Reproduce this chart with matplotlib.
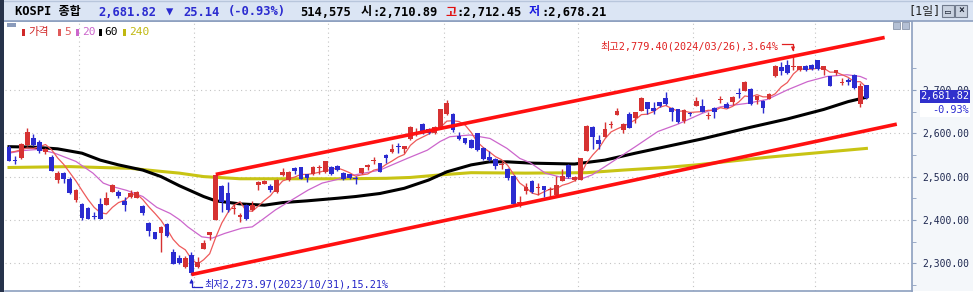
import matplotlib.pyplot as plt
from matplotlib.patches import Rectangle
from matplotlib.lines import Line2D
from matplotlib.ticker import FixedLocator, FuncFormatter

plt.rcParams['font.family'] = ['DejaVu Sans Mono', 'Noto Sans CJK KR']

W, H = 973, 292

# ---- daily candles, 2023/09/12 .. 2024/04/12 ----
opens = [2569, 2539, 2542, 2573, 2589, 2579, 2556, 2545, 2491, 2508,
         2495, 2446, 2437, 2428, 2409, 2437, 2435, 2465, 2464, 2444,
         2452, 2451, 2432, 2394, 2371, 2370, 2390, 2325, 2313, 2292,
         2320, 2292, 2334, 2366, 2400, 2478, 2462, 2425, 2406, 2434,
         2423, 2481, 2483, 2478, 2465, 2504, 2492, 2519, 2521, 2505,
         2506, 2519, 2511, 2521, 2525, 2509, 2505, 2496, 2509, 2522,
         2535, 2531, 2550, 2556, 2570, 2563, 2586, 2599, 2621, 2609,
         2600, 2615, 2645, 2645, 2594, 2588, 2585, 2600, 2567, 2546,
         2540, 2526, 2518, 2501, 2439, 2467, 2490, 2474, 2478, 2470,
         2458, 2490, 2527, 2491, 2492, 2560, 2615, 2585, 2592, 2620,
         2642, 2608, 2645, 2636, 2652, 2672, 2659, 2672, 2682, 2659,
         2655, 2628, 2647, 2663, 2663, 2639, 2658, 2678, 2668, 2673,
         2693, 2698, 2702, 2677, 2675, 2679, 2731, 2752, 2758, 2753,
         2745, 2756, 2758, 2768, 2745, 2732, 2738, 2717, 2723, 2735,
         2668, 2710.89]
highs = [2572, 2547, 2577, 2613, 2598, 2585, 2565, 2550, 2514, 2510,
         2500, 2472, 2438, 2430, 2419, 2450, 2465, 2483, 2468, 2452,
         2468, 2467, 2434, 2396, 2373, 2385, 2392, 2332, 2318, 2316,
         2325, 2315, 2354, 2373, 2504, 2480, 2488, 2437, 2415, 2436,
         2444, 2490, 2492, 2483, 2494, 2519, 2513, 2523, 2523, 2507,
         2524, 2527, 2537, 2524, 2527, 2511, 2507, 2501, 2520, 2529,
         2545, 2532, 2551, 2575, 2577, 2571, 2617, 2611, 2623, 2611,
         2616, 2656, 2677, 2647, 2602, 2590, 2587, 2601, 2569, 2558,
         2543, 2536, 2519, 2503, 2455, 2485, 2491, 2485, 2479, 2477,
         2501, 2517, 2528, 2502, 2543, 2618, 2616, 2596, 2625, 2629,
         2659, 2624, 2648, 2649, 2683, 2673, 2673, 2673, 2696, 2660,
         2657, 2655, 2650, 2684, 2678, 2648, 2660, 2686, 2671, 2685,
         2704, 2721, 2704, 2687, 2676, 2692, 2757, 2765, 2769, 2779.40,
         2756, 2757, 2760, 2770, 2756, 2733, 2747, 2727, 2727, 2737,
         2717, 2712.45]
lows = [2535, 2529, 2540, 2571, 2571, 2554, 2552, 2512, 2486, 2486,
        2460, 2441, 2400, 2401, 2402, 2402, 2434, 2464, 2451, 2421,
        2451, 2450, 2411, 2363, 2355, 2327, 2360, 2298, 2298, 2290,
        2273.97, 2290, 2333, 2354, 2399, 2419, 2418, 2414, 2395, 2400,
        2421, 2468, 2482, 2465, 2463, 2502, 2490, 2505, 2494, 2488,
        2504, 2505, 2509, 2504, 2512, 2493, 2494, 2483, 2505, 2515,
        2529, 2510, 2531, 2554, 2554, 2554, 2585, 2594, 2599, 2598,
        2599, 2614, 2643, 2604, 2585, 2575, 2565, 2558, 2538, 2537,
        2517, 2518, 2491, 2435, 2429, 2460, 2462, 2458, 2454, 2454,
        2457, 2489, 2497, 2490, 2491, 2559, 2563, 2563, 2591, 2611,
        2641, 2600, 2612, 2624, 2651, 2644, 2644, 2660, 2666, 2629,
        2624, 2623, 2640, 2662, 2649, 2632, 2635, 2669, 2658, 2665,
        2681, 2697, 2666, 2667, 2646, 2678, 2730, 2735, 2737, 2746,
        2744, 2744, 2747, 2747, 2735, 2708, 2734, 2711, 2711, 2703,
        2661, 2678.21]
closes = [2537, 2536, 2575, 2602, 2573, 2559, 2563, 2514, 2508, 2495,
          2463, 2468, 2404, 2403, 2407, 2403, 2451, 2481, 2456, 2435,
          2462, 2465, 2415, 2375, 2356, 2383, 2363, 2298, 2301, 2312,
          2278, 2303, 2346, 2371, 2504, 2442, 2423, 2428, 2411, 2402,
          2434, 2487, 2490, 2469, 2492, 2511, 2511, 2514, 2495, 2496,
          2521, 2523, 2536, 2505, 2515, 2495, 2496, 2494, 2519, 2527,
          2537, 2511, 2544, 2563, 2568, 2571, 2615, 2601, 2600, 2601,
          2614, 2655, 2670, 2607, 2587, 2578, 2567, 2561, 2541, 2538,
          2525, 2528, 2496, 2436, 2441, 2475, 2464, 2476, 2469, 2472,
          2480, 2501, 2498, 2500, 2542, 2617, 2591, 2575, 2610, 2622,
          2651, 2621, 2613, 2648, 2682, 2655, 2652, 2663, 2667, 2648,
          2625, 2654, 2645, 2675, 2650, 2641, 2648, 2680, 2659, 2683,
          2691, 2719, 2667, 2686, 2658, 2691, 2755, 2744, 2738, 2755,
          2755, 2745, 2748, 2748, 2755, 2708, 2745, 2719, 2718, 2704,
          2708, 2681.82]

# moving averages
ma5 = [2556, 2558, 2562, 2566, 2565, 2569, 2574, 2562, 2543, 2528,
       2509, 2490, 2468, 2447, 2429, 2417, 2414, 2429, 2440, 2445,
       2457, 2460, 2447, 2430, 2415, 2399, 2378, 2355, 2340, 2331,
       2310, 2298, 2308, 2322, 2360, 2393, 2417, 2434, 2442, 2421,
       2420, 2432, 2445, 2456, 2474, 2490, 2495, 2499, 2505, 2505,
       2507, 2510, 2514, 2516, 2520, 2515, 2509, 2501, 2504, 2506,
       2515, 2518, 2528, 2536, 2545, 2551, 2572, 2584, 2591, 2598,
       2606, 2614, 2628, 2629, 2627, 2619, 2602, 2580, 2567, 2557,
       2546, 2539, 2526, 2505, 2485, 2475, 2462, 2458, 2465, 2471,
       2472, 2480, 2484, 2490, 2504, 2532, 2550, 2565, 2587, 2603,
       2610, 2616, 2623, 2631, 2643, 2644, 2650, 2660, 2664, 2657,
       2651, 2651, 2648, 2649, 2650, 2653, 2652, 2659, 2656, 2662,
       2672, 2686, 2684, 2689, 2684, 2684, 2691, 2707, 2717, 2737,
       2749, 2747, 2748, 2750, 2750, 2741, 2741, 2735, 2729, 2719,
       2719, 2706]
ma20_idx = [0, 2.3, 5, 7.5, 11, 13.8, 15.5, 17, 19.4, 22, 24.3, 26.5, 28.1,
            29.4, 31.7, 33.4, 35.5, 38.3, 40, 41.6, 43.8, 46.5, 49.2, 51.5,
            54.8, 56.9, 61, 65.5, 68.8, 70.9, 72.5, 75.8, 79.1, 81.9, 84,
            85.7, 88.2, 91.4, 94.2, 95.9, 98, 103, 106.7, 110, 114, 117,
            121.4, 124.7, 128, 131.3, 134.5, 137.8, 140, 141]
ma20_val = [2554, 2560, 2563, 2554, 2535, 2508, 2485, 2477, 2468, 2454,
            2429, 2415, 2400, 2384, 2361, 2358, 2369, 2381, 2384, 2400,
            2423, 2446, 2469, 2485, 2496, 2504, 2515, 2542, 2561, 2581,
            2592, 2596, 2588, 2565, 2542, 2532, 2508, 2496, 2495, 2504,
            2523, 2569, 2604, 2621, 2646, 2661, 2669, 2678, 2700, 2719,
            2731, 2735, 2731, 2725]
ma60_idx = [0, 4, 8, 12, 15, 18, 22, 25, 28, 32, 34, 38, 42, 45, 49, 54, 57,
            61, 65, 69, 72, 76, 79, 82, 86, 93, 98, 103, 108, 114, 122, 128,
            134, 138, 141]
ma60_val = [2569, 2568, 2564, 2554, 2538, 2527, 2515, 2500, 2479, 2454,
            2444, 2437, 2434, 2440, 2444, 2450, 2454, 2461, 2473, 2492,
            2511, 2527, 2534, 2534, 2531, 2529, 2538, 2554, 2569, 2587,
            2614, 2633, 2655, 2673, 2683]
ma240_idx = [0, 10, 20, 25, 28, 32, 38, 55, 62, 66, 71, 76, 85, 95, 101,
             108, 113, 125, 141]
ma240_val = [2521, 2523, 2519, 2512, 2508, 2500, 2495, 2495, 2496, 2498,
             2504, 2509, 2508, 2509, 2515, 2521, 2527, 2545, 2565]

month_breaks = [11.5, 30.5, 52.5, 71.5, 93.5, 112.5, 132.5]
upper_x, upper_y = [34, 144], [2505, 2821]
lower_x, lower_y = [30, 146], [2274, 2621]
label_ticks = [2300, 2400, 2500, 2600, 2700]
minor_ticks = [2250, 2350, 2450, 2550, 2650, 2750]

RED = '#d63232'
BLUE = '#2b2bd0'
FRAME = '#8c9fbf'


def fx(x):
    return x / W


def fy(y):
    return 1 - y / H


fig = plt.figure(figsize=(W / 100, H / 100), dpi=100)
fig.patch.set_facecolor('white')

ax = fig.add_axes([fx(5), fy(291), 907 / W, 270 / H])
ax.set_xlim(-0.66, 148.5)
ax.set_ylim(2236, 2859)
ax.set_facecolor('white')

# grid
for v in label_ticks:
    ax.axhline(v, color='#c4c4c4', lw=0.8, ls=(0, (1, 3)), zorder=0)
for m in month_breaks:
    ax.axvline(m, color='#c4c4c4', lw=0.8, ls=(0, (1, 3)), zorder=0)

# moving averages
ax.plot(ma240_idx, ma240_val, color='#c8c414', lw=2.2, zorder=2)
ax.plot(ma60_idx, ma60_val, color='black', lw=2.2, zorder=2)
ax.plot(ma20_idx, ma20_val, color='#cc66cc', lw=0.9, zorder=2)
ax.plot(range(len(ma5)), ma5, color='#ee5a5a', lw=0.9, zorder=2)

# candles
xs = list(range(len(closes)))
cols = [RED if c >= o else BLUE for o, c in zip(opens, closes)]
bottoms, heights = [], []
for o, c in zip(opens, closes):
    lo, hi = min(o, c), max(o, c)
    if hi - lo < 2.3:
        mid = (lo + hi) / 2
        lo, hi = mid - 1.15, mid + 1.15
    bottoms.append(lo)
    heights.append(hi - lo)
ax.vlines(xs, lows, highs, colors=cols, lw=1.0, zorder=3)
ax.bar(xs, heights, bottom=bottoms, width=0.78, color=cols, linewidth=0, zorder=4)

# trend channel
ax.plot(upper_x, upper_y, color='#ff1010', lw=2.6, zorder=5, solid_capstyle='butt')
ax.plot(lower_x, lower_y, color='#ff1010', lw=2.6, zorder=5, solid_capstyle='butt')

# axes frame / right price scale
for s in ('top', 'bottom', 'right'):
    ax.spines[s].set_color(FRAME)
    ax.spines[s].set_linewidth(1.2)
ax.spines['left'].set_visible(False)
ax.set_xticks([])
ax.yaxis.tick_right()
ax.yaxis.set_major_locator(FixedLocator(label_ticks))
ax.yaxis.set_minor_locator(FixedLocator(minor_ticks))
ax.yaxis.set_major_formatter(FuncFormatter(lambda v, p: f'{v:,.2f}'))
ax.tick_params(axis='y', which='both', direction='out', length=3, color=FRAME,
               labelsize=7.0, labelcolor='#1e2850', pad=4.5)

# right panel background
fig.add_artist(Rectangle((fx(912), fy(291)), 61 / W, 270 / H, transform=fig.transFigure,
                         facecolor='#f4f7fa', edgecolor='none', zorder=-1))

# header bar
fig.add_artist(Rectangle((0, fy(20.5)), 1, 20.5 / H, transform=fig.transFigure,
                         facecolor='#dbe5f4', edgecolor='none', zorder=1))
fig.add_artist(Line2D([0, 1], [fy(20.5), fy(20.5)], transform=fig.transFigure,
                      color=FRAME, lw=1.2, zorder=2))
fig.add_artist(Line2D([0, 1], [fy(0.5), fy(0.5)], transform=fig.transFigure,
                      color='#b8c6dc', lw=1, zorder=2))
header = [(15, 'KOSPI 종합', 'black'), (98, '2,681.82', BLUE), (166, '▼', BLUE),
          (183, '25.14', BLUE), (228, '(-0.93%)', BLUE), (300, '514,575', 'black'),
          (361, '시', 'black'), (372, ':2,710.89', 'black'), (445, '고', '#e01010'),
          (456, ':2,712.45', 'black'), (529, '저', '#1a1ae0'), (541, ':2,678.21', 'black')]
for x, s, c in header:
    fig.text(fx(x), fy(12), s, color=c, fontsize=8.7, fontweight='bold',
             ha='left', va='center', zorder=3)
fig.text(fx(908), fy(12), '[1일]', color='#202020', fontsize=8.5, ha='left', va='center', zorder=3)
for bx, sym in ((942, '▭'), (955, '×')):
    fig.add_artist(Rectangle((fx(bx), fy(17)), 12 / W, 12 / H, transform=fig.transFigure,
                             facecolor='#c9d2e0', edgecolor='#707a8c', lw=0.8, zorder=3))
    fig.text(fx(bx + 6), fy(11), sym, fontsize=7, fontweight='bold', color='#202838',
             ha='center', va='center', zorder=4)

# left edge
fig.add_artist(Rectangle((0, 0), 4 / W, 1, transform=fig.transFigure,
                         facecolor='#26324a', edgecolor='none', zorder=6))

# legend row
fig.add_artist(Rectangle((fx(7), fy(27)), 9 / W, 4 / H, transform=fig.transFigure,
                         facecolor='#8a9bbb', edgecolor='none', zorder=6))
legend = [(22, 28, '가격', '#d02828'), (58, 64, '5', '#e05a5a'), (76, 82, '20', '#cc66cc'),
          (99, 104, '60', 'black'), (123, 129, '240', '#c0b810')]
for mx, tx, s, c in legend:
    fig.add_artist(Rectangle((fx(mx), fy(36)), 2.5 / W, 7 / H, transform=fig.transFigure,
                             facecolor=c, edgecolor='none', zorder=6))
    fig.text(fx(tx), fy(32), s, color=c, fontsize=8, ha='left', va='center', zorder=6)

# small window buttons inside the plot
for bx in (893, 902):
    fig.add_artist(Rectangle((fx(bx), fy(29)), 7 / W, 7 / H, transform=fig.transFigure,
                             facecolor='#b4c0d4', edgecolor='#8a96aa', lw=0.6, zorder=6))

# current price marker on the scale
fig.add_artist(Rectangle((fx(920), fy(103)), 50 / W, 13 / H, transform=fig.transFigure,
                         facecolor='#3030cc', edgecolor='none', zorder=6))
fig.text(fx(969), fy(96.5), '2,681.82', color='white', fontsize=7.4, ha='right',
         va='center', zorder=7)
fig.add_artist(Rectangle((fx(920), fy(117)), 50 / W, 14 / H, transform=fig.transFigure,
                         facecolor='white', edgecolor='none', zorder=6))
fig.text(fx(969), fy(110), '-0.93%', color=BLUE, fontsize=7.4, ha='right',
         va='center', zorder=7)

# high / low annotations
fig.text(fx(600), fy(46), '최고2,779.40(2024/03/26),3.64%', color='#e02020',
         fontsize=7.3, ha='left', va='center', zorder=7)
fig.add_artist(Line2D([fx(782), fx(793), fx(793)], [fy(44), fy(44), fy(50)],
                      transform=fig.transFigure, color='#e02020', lw=0.9, zorder=7))
ax.annotate('', xy=(fx(793), fy(51)), xytext=(fx(793), fy(46)), xycoords='figure fraction',
            textcoords='figure fraction',
            arrowprops=dict(arrowstyle='-|>', color='#e02020', lw=0.8, mutation_scale=5))

fig.text(fx(204), fy(284), '최저2,273.97(2023/10/31),15.21%', color='#2424c8',
         fontsize=7.3, ha='left', va='center', zorder=7)
fig.add_artist(Line2D([fx(202), fx(191.5), fx(191.5)], [fy(287), fy(287), fy(281)],
                      transform=fig.transFigure, color='#2424c8', lw=0.9, zorder=7))
ax.annotate('', xy=(fx(191.5), fy(279)), xytext=(fx(191.5), fy(284)), xycoords='figure fraction',
            textcoords='figure fraction',
            arrowprops=dict(arrowstyle='-|>', color='#2424c8', lw=0.8, mutation_scale=5))

fig.savefig('out.png', dpi=100)
